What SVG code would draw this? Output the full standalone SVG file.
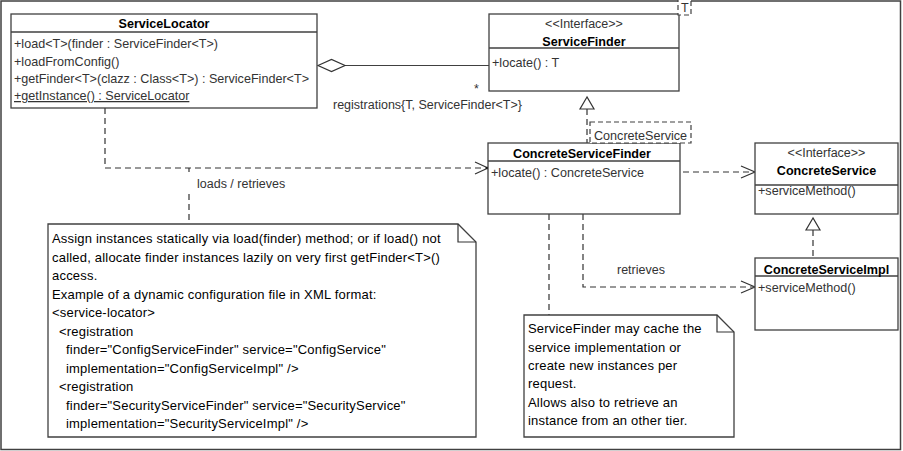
<svg xmlns="http://www.w3.org/2000/svg" width="903" height="451" viewBox="0 0 903 451">
  <defs>
    <style>
      .box { fill: #ffffff; stroke: #404040; stroke-width: 1.3; }
      .sep { stroke: #404040; stroke-width: 1.3; }
      .title { font-family: "Liberation Sans", Arial, sans-serif; font-size: 12.6px; font-weight: bold; fill: #000; text-anchor: middle; }
      .stereo { font-family: "Liberation Sans", Arial, sans-serif; font-size: 12.5px; fill: #333; text-anchor: middle; }
      .member { font-family: "Liberation Sans", Arial, sans-serif; font-size: 12.6px; fill: #333; }
      .label { font-family: "Liberation Sans", Arial, sans-serif; font-size: 12.5px; fill: #333; }
      .note { fill: #ffffff; stroke: #404040; stroke-width: 1.3; }
      .notetext { font-family: "Liberation Sans", Arial, sans-serif; font-size: 13px; letter-spacing: 0.2px; fill: #000; }
      .dash { fill: none; stroke: #333; stroke-width: 1.2; stroke-dasharray: 6 4; }
      .solid { fill: none; stroke: #404040; stroke-width: 1.2; }
      .head { fill: none; stroke: #333; stroke-width: 1.2; }
      .tri { fill: #ffffff; stroke: #333; stroke-width: 1.2; }
      .tmpl { fill: #ffffff; stroke: #404040; stroke-width: 1.2; stroke-dasharray: 5 3; }
    </style>
  </defs>

  <rect x="0" y="0" width="903" height="451" fill="#ffffff"/>
  <rect x="1" y="1" width="899.5" height="448.5" fill="none" stroke="#404040" stroke-width="1.5"/>

  <!-- connectors -->
  <g id="connectors">
    <!-- ServiceLocator aggregates ServiceFinder registrations -->
    <line class="solid" x1="345" y1="65.5" x2="489" y2="65.5"/>
    <polygon points="318,65.5 331.5,59.5 345,65.5 331.5,71.5" fill="#ffffff" stroke="#333" stroke-width="1.2"/>
    <text class="label" x="474" y="92.5">*</text>
    <text class="label" x="333" y="108.5">registrations{T, ServiceFinder&lt;T&gt;}</text>

    <!-- ConcreteServiceFinder realizes ServiceFinder -->
    <path class="dash" d="M587,109 V143"/>
    <polygon class="tri" points="587,97 580,109 594,109"/>

    <!-- ServiceLocator loads / retrieves ConcreteServiceFinder -->
    <path class="dash" d="M105,108 V168 H487"/>
    <path class="head" d="M475,162 L488,168 L475,174"/>
    <circle cx="487.5" cy="168" r="1.3" fill="#000"/>
    <text class="label" x="197" y="187.5">loads / retrieves</text>

    <!-- first note attached to the loads / retrieves dependency -->
    <path class="dash" d="M189,168 V172"/>
    <path class="dash" d="M189,194 V224"/>

    <!-- ConcreteServiceFinder uses ConcreteService -->
    <path class="dash" d="M683,172 H754"/>
    <path class="head" d="M741,166 L755,172 L741,178"/>

    <!-- ConcreteServiceFinder retrieves ConcreteServiceImpl -->
    <path class="dash" d="M583,214 V287 H754"/>
    <path class="head" d="M741,281 L755,287 L741,293"/>
    <text class="label" x="617" y="273.5">retrieves</text>

    <!-- second note attached to ConcreteServiceFinder -->
    <path class="dash" d="M549,214 V315"/>

    <!-- ConcreteServiceImpl realizes ConcreteService -->
    <path class="dash" d="M813,230 V258"/>
    <polygon class="tri" points="813,218 806,230 820,230"/>
  </g>

  <!-- ServiceLocator -->
  <g id="ServiceLocator">
    <rect class="box" x="11" y="14" width="306" height="94"/>
    <line class="sep" x1="11" y1="32" x2="317" y2="32"/>
    <text class="title" x="164" y="28">ServiceLocator</text>
    <text class="member" x="14" y="48">+load&lt;T&gt;(finder : ServiceFinder&lt;T&gt;)</text>
    <text class="member" x="14" y="65.5">+loadFromConfig()</text>
    <text class="member" x="14" y="83">+getFinder&lt;T&gt;(clazz : Class&lt;T&gt;) : ServiceFinder&lt;T&gt;</text>
    <text class="member" x="14" y="100" text-decoration="underline">+getInstance() : ServiceLocator</text>
  </g>

  <!-- ServiceFinder interface with its template parameter T -->
  <g id="ServiceFinder">
    <rect class="box" x="489" y="14" width="190" height="77"/>
    <line class="sep" x1="489" y1="48" x2="679" y2="48"/>
    <text class="stereo" x="584" y="27.5">&lt;&lt;Interface&gt;&gt;</text>
    <text class="title" x="584" y="46">ServiceFinder</text>
    <text class="member" x="492" y="66.5">+locate() : T</text>
    <rect class="tmpl" x="678" y="-10" width="13" height="25"/>
    <text class="member" x="681" y="11.5">T</text>
  </g>

  <!-- ConcreteServiceFinder with its bound template parameter -->
  <g id="ConcreteServiceFinder">
    <rect class="box" x="488" y="143" width="192" height="71"/>
    <line class="sep" x1="488" y1="161" x2="680" y2="161"/>
    <text class="title" x="582" y="158">ConcreteServiceFinder</text>
    <text class="member" x="491" y="176.5">+locate() : ConcreteService</text>
    <rect class="tmpl" x="590" y="122" width="101" height="21"/>
    <text class="member" x="594" y="139.5">ConcreteService</text>
  </g>

  <!-- ConcreteService interface -->
  <g id="ConcreteService">
    <rect class="box" x="755" y="143" width="143" height="71"/>
    <line class="sep" x1="755" y1="185" x2="898" y2="185"/>
    <text class="stereo" x="826.5" y="157">&lt;&lt;Interface&gt;&gt;</text>
    <text class="title" x="826.5" y="175">ConcreteService</text>
    <text class="member" x="758" y="194.5">+serviceMethod()</text>
  </g>

  <!-- ConcreteServiceImpl -->
  <g id="ConcreteServiceImpl">
    <rect class="box" x="755" y="258" width="143" height="72"/>
    <line class="sep" x1="755" y1="276" x2="898" y2="276"/>
    <text class="title" x="826.5" y="273.5">ConcreteServiceImpl</text>
    <text class="member" x="758" y="291.5">+serviceMethod()</text>
  </g>

  <!-- note on static / lazy loading -->
  <g id="NoteLoading">
    <path class="note" d="M48,224 H458 L476,242 V437 H48 Z"/>
    <path class="head" d="M458,224 V242 H476"/>
    <text class="notetext" x="52" y="243">Assign instances statically via load(finder) method; or if load() not</text>
    <text class="notetext" x="52" y="261.5">called, allocate finder instances lazily on very first getFinder&lt;T&gt;()</text>
    <text class="notetext" x="52" y="280">access.</text>
    <text class="notetext" x="52" y="298.5">Example of a dynamic configuration file in XML format:</text>
    <text class="notetext" x="52" y="317">&lt;service-locator&gt;</text>
    <text class="notetext" x="59" y="335.5">&lt;registration</text>
    <text class="notetext" x="66" y="354">finder="ConfigServiceFinder" service="ConfigService"</text>
    <text class="notetext" x="66" y="372.5">implementation="ConfigServiceImpl" /&gt;</text>
    <text class="notetext" x="59" y="391">&lt;registration</text>
    <text class="notetext" x="66" y="409.5">finder="SecurityServiceFinder" service="SecurityService"</text>
    <text class="notetext" x="66" y="428">implementation="SecurityServiceImpl" /&gt;</text>
  </g>

  <!-- note on caching -->
  <g id="NoteCaching">
    <path class="note" d="M524,315 H717 L734,332 V437 H524 Z"/>
    <path class="head" d="M717,315 V332 H734"/>
    <text class="notetext" x="528" y="333">ServiceFinder may cache the</text>
    <text class="notetext" x="528" y="351.5">service implementation or</text>
    <text class="notetext" x="528" y="370">create new instances per</text>
    <text class="notetext" x="528" y="388">request.</text>
    <text class="notetext" x="528" y="406.5">Allows also to retrieve an</text>
    <text class="notetext" x="528" y="425">instance from an other tier.</text>
  </g>
</svg>
